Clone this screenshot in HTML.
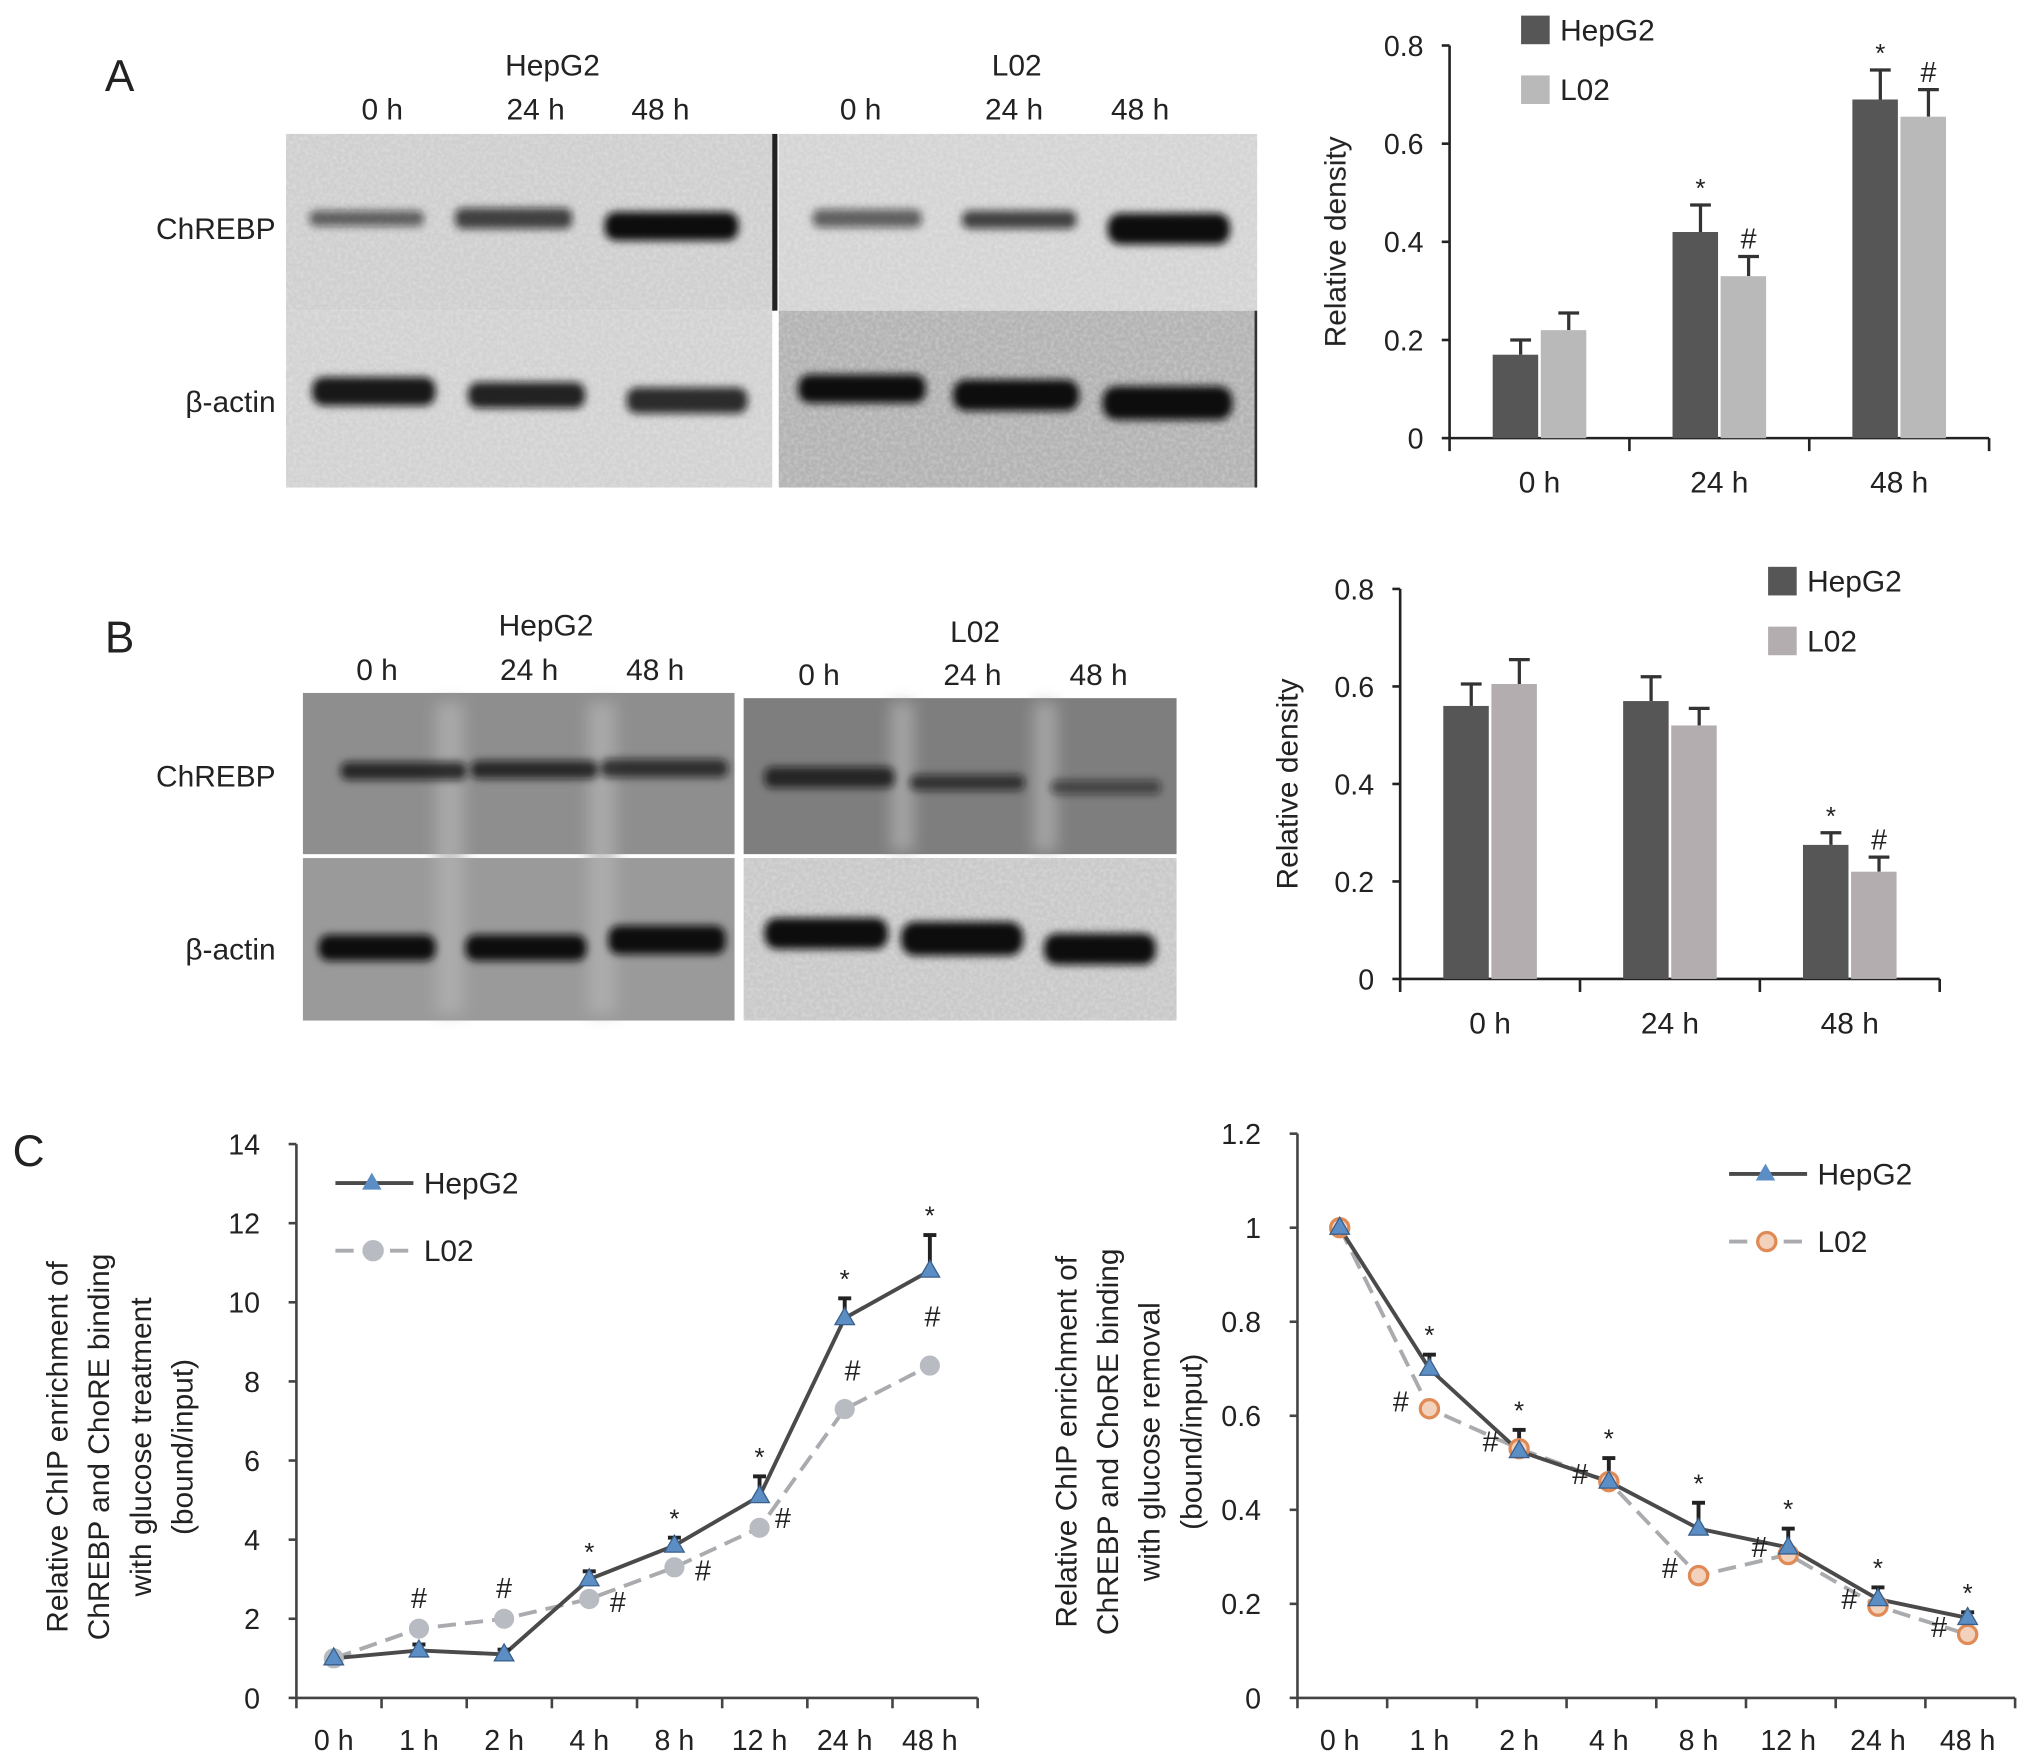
<!DOCTYPE html>
<html><head><meta charset="utf-8"><style>
html,body{margin:0;padding:0;background:#fff}
svg{display:block}
text{font-family:"Liberation Sans",Arial,sans-serif;fill:#222}
</style></head><body>
<svg id="fig" width="2032" height="1759" viewBox="0 0 1563 1353" xmlns="http://www.w3.org/2000/svg">
<defs>
<filter id="noise" x="0" y="0" width="100%" height="100%">
<feTurbulence type="fractalNoise" baseFrequency="0.35" numOctaves="2" seed="3" result="t"/>
<feColorMatrix in="t" type="matrix" values="0 0 0 0 1  0 0 0 0 1  0 0 0 0 1  0 0 0 0.9 -0.3" result="n"/>
<feComposite in="n" in2="SourceGraphic" operator="in"/>
</filter>
<filter id="blur" x="-20%" y="-80%" width="140%" height="260%"><feGaussianBlur stdDeviation="3"/></filter>
<filter id="blur2" x="-20%" y="-20%" width="140%" height="140%"><feGaussianBlur stdDeviation="6"/></filter>
</defs>

<g>
<text x="92" y="70" font-size="34" text-anchor="middle">A</text>
<text x="425" y="58" font-size="23" text-anchor="middle">HepG2</text>
<text x="294" y="92" font-size="23" text-anchor="middle">0 h</text>
<text x="412" y="92" font-size="23" text-anchor="middle">24 h</text>
<text x="508" y="92" font-size="23" text-anchor="middle">48 h</text>
<text x="782" y="58" font-size="23" text-anchor="middle">L02</text>
<text x="662" y="92" font-size="23" text-anchor="middle">0 h</text>
<text x="780" y="92" font-size="23" text-anchor="middle">24 h</text>
<text x="877" y="92" font-size="23" text-anchor="middle">48 h</text>
<text x="212" y="184" font-size="23" text-anchor="end">ChREBP</text>
<text x="212" y="317" font-size="23" text-anchor="end">β-actin</text>
<rect x="220" y="103" width="374" height="136" fill="#cfcfcf"/>
<rect x="220" y="239" width="374" height="136" fill="#d2d2d2"/>
<rect x="599" y="103" width="368" height="136" fill="#d4d4d4"/>
<rect x="599" y="239" width="368" height="136" fill="#b3b3b3"/>
<rect x="220" y="103" width="747" height="272" fill="#fff" filter="url(#noise)" opacity="0.5"/>
<rect x="594" y="103" width="4" height="136" fill="#222"/>
<rect x="596" y="239" width="2" height="136" fill="#fff"/>
<rect x="965" y="239" width="2" height="136" fill="#333"/>
<g filter="url(#blur)" fill="#111">
<rect x="238" y="162" width="88" height="12" rx="5" opacity="0.6"/>
<rect x="350" y="160" width="90" height="16" rx="6" opacity="0.75"/>
<rect x="465" y="163" width="103" height="22" rx="9"/>
<rect x="625" y="161" width="84" height="14" rx="6" opacity="0.6"/>
<rect x="740" y="162" width="88" height="14" rx="6" opacity="0.75"/>
<rect x="852" y="164" width="94" height="24" rx="10"/>
<rect x="240" y="290" width="95" height="22" rx="9" opacity="0.95"/>
<rect x="360" y="294" width="90" height="20" rx="8" opacity="0.9"/>
<rect x="482" y="298" width="93" height="20" rx="8" opacity="0.85"/>
<rect x="614" y="288" width="98" height="22" rx="9"/>
<rect x="733" y="292" width="97" height="24" rx="10"/>
<rect x="848" y="297" width="100" height="26" rx="11"/>
</g>
</g>

<g>
<text x="92" y="502" font-size="34" text-anchor="middle">B</text>
<text x="420" y="489" font-size="23" text-anchor="middle">HepG2</text>
<text x="290" y="523" font-size="23" text-anchor="middle">0 h</text>
<text x="407" y="523" font-size="23" text-anchor="middle">24 h</text>
<text x="504" y="523" font-size="23" text-anchor="middle">48 h</text>
<text x="750" y="494" font-size="23" text-anchor="middle">L02</text>
<text x="630" y="527" font-size="23" text-anchor="middle">0 h</text>
<text x="748" y="527" font-size="23" text-anchor="middle">24 h</text>
<text x="845" y="527" font-size="23" text-anchor="middle">48 h</text>
<text x="212" y="605" font-size="23" text-anchor="end">ChREBP</text>
<text x="212" y="738" font-size="23" text-anchor="end">β-actin</text>
<rect x="233" y="533" width="332" height="124" fill="#8e8e8e"/>
<rect x="233" y="660" width="332" height="125" fill="#9a9a9a"/>
<rect x="572" y="537" width="333" height="120" fill="#7e7e7e"/>
<rect x="572" y="660" width="333" height="125" fill="#c9c9c9"/>
<g filter="url(#blur2)" fill="#b4b4b4" opacity="0.7">
<rect x="335" y="540" width="22" height="240"/>
<rect x="452" y="540" width="22" height="240"/>
<rect x="685" y="540" width="18" height="115"/>
<rect x="795" y="540" width="18" height="115"/>
</g>
<rect x="572" y="660" width="333" height="125" fill="#fff" filter="url(#noise)" opacity="0.5"/>
<g filter="url(#blur)" fill="#111">
<rect x="262" y="586" width="97" height="14" rx="6" opacity="0.8"/>
<rect x="362" y="585" width="98" height="14" rx="6" opacity="0.8"/>
<rect x="462" y="584" width="98" height="14" rx="6" opacity="0.75"/>
<rect x="588" y="590" width="100" height="16" rx="6" opacity="0.8"/>
<rect x="700" y="596" width="88" height="12" rx="5" opacity="0.7"/>
<rect x="808" y="600" width="85" height="11" rx="5" opacity="0.55"/>
<rect x="245" y="719" width="90" height="20" rx="8"/>
<rect x="358" y="719" width="93" height="20" rx="8"/>
<rect x="468" y="712" width="90" height="22" rx="8"/>
<rect x="588" y="706" width="95" height="24" rx="10"/>
<rect x="693" y="709" width="94" height="26" rx="11"/>
<rect x="803" y="718" width="86" height="24" rx="10"/>
</g>
</g>

<text x="22" y="897" font-size="34" text-anchor="middle">C</text>

<g id="chartA"></g>
<g id="chartB"></g>
<g id="chartC1"></g>
<g id="chartC2"></g>
</svg>
<script>
const NS="http://www.w3.org/2000/svg";
const barCats=["0 h","24 h","48 h"];
const aHep=[0.17,0.42,0.69];
const aHepErr=[0.03,0.055,0.06];
const aL02=[0.22,0.33,0.655];
const aL02Err=[0.035,0.04,0.055];
const aHepMark=["","*","*"];
const aL02Mark=["","#","#"];
const bHep=[0.56,0.57,0.275];
const bHepErr=[0.045,0.05,0.025];
const bL02=[0.605,0.52,0.22];
const bL02Err=[0.05,0.035,0.03];
const bHepMark=["","","*"];
const bL02Mark=["","","#"];
const barTicks=[0,0.2,0.4,0.6,0.8];
const barTickLabels=["0","0.2","0.4","0.6","0.8"];
const timeCats=["0 h","1 h","2 h","4 h","8 h","12 h","24 h","48 h"];
const c1Hep=[1.0,1.2,1.1,3.0,3.85,5.1,9.6,10.8];
const c1HepErr=[0,0.15,0.12,0.2,0.2,0.5,0.5,0.9];
const c1L02=[1.0,1.75,2.0,2.5,3.3,4.3,7.3,8.4];
const c1HepMark=["","","","*","*","*","*","*"];
const c1L02Mark=["","#","#","#","#","#","#","#"];
const c1Ticks=[0,2,4,6,8,10,12,14];
const c1TickLabels=["0","2","4","6","8","10","12","14"];
const c2Hep=[1.0,0.70,0.525,0.46,0.36,0.32,0.21,0.17];
const c2HepErr=[0,0.03,0.045,0.05,0.055,0.04,0.025,0.012];
const c2L02=[1.0,0.615,0.53,0.46,0.26,0.305,0.195,0.135];
const c2HepMark=["","*","*","*","*","*","*","*"];
const c2L02Mark=["","#","#","#","#","#","#","#"];
const c2Ticks=[0,0.2,0.4,0.6,0.8,1,1.2];
const c2TickLabels=["0","0.2","0.4","0.6","0.8","1","1.2"];
// annotation label placement (styling offsets, px)
const c1HashDx=[0,0,0,22,22,18,6,2];
const c1HashDy=[0,-16,-16,10,10,0,-22,-30];

function el(parent,tag,attrs,txt){const e=document.createElementNS(NS,tag);for(const k in attrs)e.setAttribute(k,attrs[k]);if(txt!==undefined)e.textContent=txt;parent.appendChild(e);return e;}

function barChart(id,cfg,hep,hepE,l02,l02E,hm,lm){
  const g=document.getElementById(id);
  const y=v=>cfg.y0-(v/0.8)*(cfg.y0-cfg.yTop);
  const gw=(cfg.x1-cfg.x0)/3;
  const ax=el(g,"path",{d:`M${cfg.x0} ${cfg.yTop}V${cfg.y0}H${cfg.x1}`,stroke:"#222","stroke-width":2,fill:"none"});
  
  
  barTicks.forEach((t,i)=>{
    el(g,"line",{x1:cfg.x0-6,x2:cfg.x0,y1:y(t),y2:y(t),stroke:"#222","stroke-width":2});
    const tl=el(g,"text",{x:cfg.x0-20,y:y(t)+8,"font-size":22,"text-anchor":"end"},barTickLabels[i]);
    
    
  });
  for(let i=0;i<=3;i++) el(g,"line",{x1:cfg.x0+gw*i,x2:cfg.x0+gw*i,y1:cfg.y0,y2:cfg.y0+10,stroke:"#222","stroke-width":2});
  barCats.forEach((c,i)=>{
    const cx=cfg.x0+gw*(i+0.5);
    const xl=el(g,"text",{x:cx,y:cfg.y0+42,"font-size":23,"text-anchor":"middle"},c);
    
    
    const bw=35;
    [[hep,hepE,hm,cx-bw-1,"#565656"],[l02,l02E,lm,cx+1,cfg.l02c]].forEach((s,k)=>{
      const v=s[0][i],e=s[1][i],bx=s[3];
      el(g,"line",{x1:bx+bw/2+4,x2:bx+bw/2+4,y1:y(v),y2:y(v+e),stroke:"#333","stroke-width":2.5});
      el(g,"line",{x1:bx+bw/2-4,x2:bx+bw/2+12,y1:y(v+e),y2:y(v+e),stroke:"#333","stroke-width":2.5});
      const r=el(g,"rect",{x:bx,y:y(v),width:bw,height:cfg.y0-y(v),fill:s[4]});
      
      
      if(s[2][i]) el(g,"text",{x:bx+bw/2+4,y:y(v+e)-6,"font-size":s[2][i]=="*"?20:22,"text-anchor":"middle",fill:"#333"},s[2][i]);
    });
  });
  const yt=el(g,"text",{x:cfg.titleX,y:(cfg.y0+cfg.yTop)/2,"font-size":23,"text-anchor":"middle",transform:`rotate(-90 ${cfg.titleX} ${(cfg.y0+cfg.yTop)/2})`},"Relative density");
  
  
  [["HepG2","#565656",cfg.legY],["L02",cfg.l02c,cfg.legY+46]].forEach(l=>{
    const lg=el(g,"g",{});
    
    
    el(lg,"rect",{x:cfg.legX,y:l[2],width:22,height:22,fill:l[1]});
    el(lg,"text",{x:cfg.legX+30,y:l[2]+19,"font-size":23},l[0]);
  });
}
barChart("chartA",{x0:1115,x1:1530,y0:337,yTop:35,titleX:1035,legX:1170,legY:12,l02c:"#b9b9b9"},aHep,aHepErr,aL02,aL02Err,aHepMark,aL02Mark);
barChart("chartB",{x0:1077,x1:1492,y0:753,yTop:453,titleX:998,legX:1360,legY:436,l02c:"#b3adb0"},bHep,bHepErr,bL02,bL02Err,bHepMark,bL02Mark);

function lineChart(id,cfg,hep,hepE,l02,hm,lm,ticks,tickL){
  const g=document.getElementById(id);
  const ymax=ticks[ticks.length-1];
  const y=v=>cfg.y0-(v/ymax)*(cfg.y0-cfg.yTop);
  const step=(cfg.x1-cfg.x0)/8;
  const x=i=>cfg.x0+step*(i+0.5)+cfg.shift;
  const ax=el(g,"path",{d:`M${cfg.x0} ${cfg.yTop}V${cfg.y0}H${cfg.x1}`,stroke:"#444","stroke-width":2,fill:"none"});
  
  
  ticks.forEach((t,i)=>{
    el(g,"line",{x1:cfg.x0-6,x2:cfg.x0,y1:y(t),y2:y(t),stroke:"#444","stroke-width":2});
    const tl=el(g,"text",{x:cfg.x0-28,y:y(t)+8,"font-size":22,"text-anchor":"end"},tickL[i]);
    
    
  });
  for(let i=0;i<=8;i++) el(g,"line",{x1:cfg.x0+step*i,x2:cfg.x0+step*i,y1:cfg.y0,y2:cfg.y0+8,stroke:"#444","stroke-width":2});
  timeCats.forEach((c,i)=>{
    const xl=el(g,"text",{x:x(i),y:cfg.y0+40,"font-size":22,"text-anchor":"middle"},c);
    
    
  });
  const lp=el(g,"polyline",{points:l02.map((v,i)=>x(i)+","+y(v)).join(" "),fill:"none",stroke:"#a9abae","stroke-width":3,"stroke-dasharray":"14 7"});
  
  
  const hp=el(g,"polyline",{points:hep.map((v,i)=>x(i)+","+y(v)).join(" "),fill:"none",stroke:"#4a4a4a","stroke-width":3});
  
  
  hep.forEach((v,i)=>{
    if(hepE[i]>0){
      el(g,"line",{x1:x(i),x2:x(i),y1:y(v),y2:y(v+hepE[i]),stroke:"#222","stroke-width":3});
      el(g,"line",{x1:x(i)-5,x2:x(i)+5,y1:y(v+hepE[i]),y2:y(v+hepE[i]),stroke:"#222","stroke-width":3});
    }
  });
  l02.forEach((v,i)=>{
    const c=el(g,"circle",{cx:x(i),cy:y(v),r:cfg.orange?7:6.5,fill:cfg.orange?"#f3d2bd":"#b8bcc2",stroke:cfg.orange?"#e08a55":"#b8bcc2","stroke-width":2.5});
    
    
    const dx=cfg.hashDx?cfg.hashDx[i]:-22, dy=cfg.hashDy?cfg.hashDy[i]:2;
    if(lm[i]) el(g,"text",{x:x(i)+dx,y:y(v)+dy,"font-size":22,"text-anchor":"middle",fill:"#333"},lm[i]);
  });
  hep.forEach((v,i)=>{
    const p=el(g,"path",{d:`M${x(i)} ${y(v)-8}L${x(i)+7.5} ${y(v)+5}L${x(i)-7.5} ${y(v)+5}Z`,fill:"#5b8ec4",stroke:"#3a5f8a","stroke-width":1});
    
    
    if(hm[i]) el(g,"text",{x:x(i),y:y(v+hepE[i])-8,"font-size":20,"text-anchor":"middle",fill:"#444"},hm[i]);
  });
  const tg=el(g,"g",{});
  
  
  cfg.title.forEach((t,k)=>{
    const tx=cfg.titleX+k*32, ty=(cfg.y0+cfg.yTop)/2+20;
    el(tg,"text",{x:tx,y:ty,"font-size":23,"text-anchor":"middle",transform:`rotate(-90 ${tx} ${ty})`},t);
  });
  const l1=el(g,"g",{});
  
  
  el(l1,"line",{x1:cfg.legX,x2:cfg.legX+60,y1:cfg.legY,y2:cfg.legY,stroke:"#4a4a4a","stroke-width":3});
  el(l1,"path",{d:`M${cfg.legX+28} ${cfg.legY-8}L${cfg.legX+35.5} ${cfg.legY+5}L${cfg.legX+20.5} ${cfg.legY+5}Z`,fill:"#5b8ec4"});
  el(l1,"text",{x:cfg.legX+68,y:cfg.legY+8,"font-size":23},"HepG2");
  const l2=el(g,"g",{});
  
  
  el(l2,"line",{x1:cfg.legX,x2:cfg.legX+60,y1:cfg.legY+52,y2:cfg.legY+52,stroke:"#a9abae","stroke-width":3,"stroke-dasharray":"14 7"});
  el(l2,"circle",{cx:cfg.legX+29,cy:cfg.legY+52,r:7,fill:cfg.orange?"#f3d2bd":"#b8bcc2",stroke:cfg.orange?"#e08a55":"#b8bcc2","stroke-width":2.5});
  el(l2,"text",{x:cfg.legX+68,y:cfg.legY+60,"font-size":23},"L02");
}
lineChart("chartC1",{x0:228,x1:752,y0:1306,yTop:880,titleX:52,legX:258,legY:910,orange:false,shift:-4,hashDx:c1HashDx,hashDy:c1HashDy,
  title:["Relative ChIP enrichment of","ChREBP and ChoRE binding","with glucose treatment","(bound/input)"]},
  c1Hep,c1HepErr,c1L02,c1HepMark,c1L02Mark,c1Ticks,c1TickLabels);
lineChart("chartC2",{x0:998,x1:1550,y0:1306,yTop:872,titleX:828,legX:1330,legY:903,orange:true,shift:-2,
  title:["Relative ChIP enrichment of","ChREBP and ChoRE binding","with glucose removal","(bound/input)"]},
  c2Hep,c2HepErr,c2L02,c2HepMark,c2L02Mark,c2Ticks,c2TickLabels);
</script>
</body></html>
